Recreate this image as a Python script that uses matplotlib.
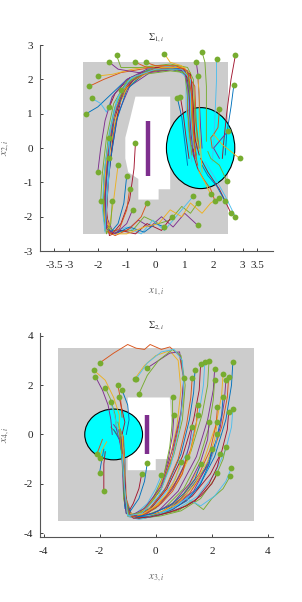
import numpy as np
import matplotlib
matplotlib.use("Agg")
import matplotlib.pyplot as plt
from matplotlib.patches import Polygon, Ellipse

plt.rcParams['font.family'] = ['Liberation Serif', 'DejaVu Serif']
plt.rcParams['mathtext.fontset'] = 'stix'

# === Kolory (paleta MATLAB) ===
kolory = ['#0072BD', '#D95319', '#EDB120', '#7E2F8E', '#77AC30', '#4DBEEE', '#A2142F']
kolor_start = '#77AC30'

# === Panel 1: obszary ===
obszar1 = [(-2.5, -2.5), (2.5, -2.5), (2.5, 2.5), (-2.5, 2.5)]
dziura1 = [(-0.7, 1.5), (0.5, 1.5), (0.5, -1.2), (0.1, -1.2), (0.1, -1.5), (-0.6, -1.5),
           (-0.6, -0.9), (-0.95, -0.7), (-1.05, -0.3), (-1.05, 0.3), (-0.9, 0.8), (-0.7, 1.5)]
przeszkoda1_x = [-0.25, -0.25]
przeszkoda1_y = [-0.8, 0.8]
kolo1_srodek = (1.55, 0.0)
kolo1_r = 1.18

# === Panel 1: trajektorie ===
traj1 = [
    [(-2.4, 1.0), (-2.0, 1.2), (-1.5, 1.6), (-1.0, 2.0), (-0.3, 2.25), (0.5, 2.3), (1.0, 2.2), (1.15, 1.6), (1.2, 0.6), (1.3, 0.0)],
    [(-2.3, 1.8), (-1.8, 2.0), (-1.2, 2.2), (-0.5, 2.3), (0.4, 2.4), (0.9, 2.35), (1.1, 2.0), (1.1, 1.0), (1.2, 0.2), (1.35, -0.3)],
    [(-2.0, 2.1), (-1.5, 2.15), (-0.8, 2.3), (0.0, 2.4), (0.8, 2.4), (1.2, 2.2), (1.3, 1.4), (1.35, 0.5), (1.5, -0.1)],
    [(-1.6, 2.5), (-1.3, 2.3), (-0.6, 2.2), (0.2, 2.3), (1.0, 2.3), (1.25, 1.9), (1.3, 0.8), (1.4, 0.0)],
    [(-1.35, 2.7), (-1.2, 2.35), (-0.5, 2.35), (0.5, 2.45), (1.1, 2.35), (1.3, 2.0), (1.35, 1.0), (1.45, 0.2)],
    [(-2.2, 1.45), (-1.9, 1.3), (-1.7, 1.05), (-1.5, 1.5), (-1.0, 2.0), (-0.2, 2.3), (0.7, 2.3), (1.05, 2.1), (1.05, 1.2), (1.15, 0.2), (1.25, -0.4)],
    [(-1.6, 1.2), (-1.4, 1.6), (-0.9, 2.05), (-0.1, 2.25), (0.8, 2.3), (1.15, 2.05), (1.2, 1.0), (1.3, -0.2), (1.45, -0.6)],
    [(-1.2, 1.7), (-0.7, 2.1), (0.2, 2.35), (0.9, 2.35), (1.2, 2.1), (1.25, 1.2), (1.35, 0.3)],
    [(-0.7, 2.5), (-0.3, 2.35), (0.4, 2.35), (1.0, 2.3), (1.35, 1.8), (1.4, 0.7), (1.5, 0.0)],
    [(0.3, 2.75), (0.5, 2.5), (0.9, 2.4), (1.2, 2.0), (1.2, 1.0), (1.3, 0.0)],
    [(1.4, 2.5), (1.45, 2.2), (1.5, 1.5), (1.55, 0.6), (1.6, 0.0)],
    [(1.6, 2.8), (1.7, 2.5), (1.75, 1.8), (1.75, 1.0), (1.75, 0.2)],
    [(2.1, 2.6), (2.1, 2.0), (2.05, 1.0), (2.0, 0.1), (1.95, -0.4)],
    [(2.75, 2.7), (2.6, 2.0), (2.45, 1.0), (2.35, 0.2), (2.3, -0.3)],
    [(2.7, 1.85), (2.6, 1.2), (2.45, 0.4), (2.4, -0.2)],
    [(2.2, 1.15), (2.15, 0.6), (2.0, 0.4), (1.9, 0.3), (1.95, 0.0)],
    [(2.9, -0.3), (2.6, -0.1), (2.3, 0.1), (2.0, 0.4)],
    [(2.5, 0.5), (2.2, 0.2), (2.0, 0.0), (2.2, -0.3)],
    [(2.45, -0.95), (2.2, -0.5), (1.9, -0.3), (1.8, -0.1)],
    [(2.75, -2.0), (2.4, -1.4), (2.0, -0.8), (1.7, -0.4)],
    [(2.6, -1.9), (2.2, -1.2), (1.8, -0.7), (1.55, -0.3)],
    [(2.4, -1.55), (2.1, -1.1), (1.8, -0.8), (1.6, -0.5)],
    [(2.05, -1.55), (1.9, -1.2), (1.65, -0.9), (1.45, -0.6)],
    [(1.9, -1.35), (1.7, -1.0), (1.5, -0.7)],
    [(1.45, -2.25), (1.0, -1.9), (0.6, -2.3), (0.2, -2.0), (-0.2, -2.3), (-0.6, -2.1), (-1.0, -2.4), (-1.5, -2.4), (-1.7, -2.0),
     (-1.65, -1.0), (-1.5, 0.0), (-1.3, 1.0), (-0.9, 1.8), (-0.2, 2.2), (0.7, 2.3), (1.1, 2.1), (1.15, 1.2), (1.2, 0.3), (1.35, -0.3)],
    [(1.45, -1.6), (1.2, -1.9), (0.9, -1.7), (0.5, -2.1), (0.1, -2.2), (-0.4, -2.0), (-0.8, -2.4), (-1.4, -2.45), (-1.75, -2.2),
     (-1.75, -1.2), (-1.6, -0.1), (-1.45, 0.9), (-1.1, 1.7), (-0.4, 2.15), (0.5, 2.25), (1.0, 2.2), (1.1, 1.5), (1.15, 0.5), (1.25, -0.2)],
    [(1.3, -1.4), (0.7, -2.0), (0.3, -2.4), (-0.1, -2.1), (-0.5, -2.5), (-1.0, -2.3), (-1.6, -2.5), (-1.8, -2.1), (-1.8, -1.0),
     (-1.65, 0.1), (-1.45, 1.1), (-1.05, 1.9), (-0.3, 2.3), (0.6, 2.4), (1.1, 2.25), (1.25, 1.6), (1.3, 0.6), (1.4, -0.1)],
    [(0.55, -2.0), (0.2, -2.4), (-0.3, -2.2), (-0.7, -2.5), (-1.2, -2.4), (-1.6, -2.55), (-1.7, -1.8), (-1.6, -0.6), (-1.45, 0.5),
     (-1.2, 1.4), (-0.8, 2.0), (0.0, 2.35), (0.8, 2.35), (1.2, 2.15), (1.3, 1.2), (1.35, 0.3), (1.5, -0.2)],
    [(0.3, -2.3), (0.0, -2.2), (-0.4, -2.45), (-0.9, -2.3), (-1.4, -2.5), (-1.7, -2.3), (-1.7, -1.4), (-1.55, -0.3), (-1.35, 0.8),
     (-1.0, 1.7), (-0.4, 2.2), (0.5, 2.35), (1.05, 2.25), (1.2, 1.7), (1.25, 0.8), (1.35, 0.0)],
    [(-0.3, -1.6), (-0.5, -2.0), (-0.9, -2.35), (-1.4, -2.55), (-1.75, -2.4), (-1.8, -1.5), (-1.7, -0.4), (-1.5, 0.7), (-1.15, 1.6),
     (-0.6, 2.15), (0.3, 2.3), (0.95, 2.3), (1.15, 1.9), (1.2, 1.0), (1.3, 0.1), (1.45, -0.5)],
    [(2.2, -1.45), (1.9, -1.6), (1.6, -1.9), (1.2, -1.6), (0.9, -2.0), (0.5, -1.8), (0.1, -2.2), (-0.4, -2.3), (-1.0, -2.5),
     (-1.55, -2.5), (-1.7, -2.0), (-1.7, -1.0), (-1.55, 0.1), (-1.3, 1.2), (-0.9, 1.9), (-0.1, 2.3), (0.9, 2.3), (1.15, 2.0), (1.2, 1.0), (1.3, 0.0)],
    [(-2.0, -0.7), (-1.9, 0.0), (-1.75, 0.8), (-1.5, 1.5), (-1.0, 2.0), (-0.3, 2.3), (0.6, 2.35), (1.1, 2.2), (1.2, 1.5), (1.25, 0.5), (1.4, -0.2)],
    [(-1.9, -1.55), (-1.85, -0.8), (-1.7, 0.3), (-1.45, 1.3), (-1.0, 1.95), (-0.2, 2.3), (0.7, 2.35), (1.15, 2.1), (1.2, 1.1), (1.3, 0.1)],
    [(-1.6, -0.3), (-1.7, -1.3), (-1.75, -2.4), (-1.8, -1.8), (-1.75, -0.6), (-1.6, 0.5), (-1.35, 1.4), (-0.9, 2.0), (-0.1, 2.3),
     (0.8, 2.3), (1.1, 2.0), (1.15, 1.0), (1.25, 0.1)],
    [(-0.7, 0.15), (-0.75, -0.6), (-0.9, -1.5), (-1.2, -2.2), (-1.5, -2.5), (-1.7, -2.3), (-1.75, -1.5), (-1.65, -0.3), (-1.45, 0.8),
     (-1.1, 1.7), (-0.5, 2.2), (0.4, 2.35), (1.0, 2.3), (1.15, 1.8), (1.2, 0.8), (1.3, -0.1)],
    [(-1.0, -0.8), (-1.1, -1.6), (-1.3, -2.2), (-1.55, -2.45), (-1.75, -2.2), (-1.75, -1.2), (-1.6, -0.1), (-1.4, 1.0), (-1.0, 1.85),
     (-0.3, 2.25), (0.6, 2.35), (1.1, 2.2), (1.2, 1.3), (1.25, 0.3)],
    [(-0.9, -1.2), (-1.0, -1.8), (-1.25, -2.35), (-1.6, -2.5), (-1.8, -2.0), (-1.75, -0.9), (-1.6, 0.2), (-1.35, 1.2), (-0.95, 1.9),
     (-0.1, 2.3), (0.8, 2.35), (1.2, 2.1), (1.25, 1.0), (1.35, 0.0)],
    [(-1.3, -0.5), (-1.45, -1.5), (-1.6, -2.3), (-1.75, -2.4), (-1.8, -1.5), (-1.7, -0.4), (-1.5, 0.7), (-1.2, 1.6), (-0.7, 2.1),
     (0.2, 2.35), (1.0, 2.35), (1.2, 1.9), (1.25, 0.9), (1.35, -0.1)],
    [(-0.8, -1.8), (-1.0, -2.2), (-1.4, -2.5), (-1.7, -2.35), (-1.75, -1.4), (-1.65, -0.2), (-1.45, 0.9), (-1.1, 1.75), (-0.5, 2.2),
     (0.4, 2.3), (1.0, 2.25), (1.15, 1.6), (1.2, 0.6), (1.3, -0.2)],
    [(-1.5, -1.55), (-1.55, -2.2), (-1.7, -2.5), (-1.8, -2.0), (-1.8, -0.9), (-1.65, 0.2), (-1.4, 1.2), (-1.0, 1.9), (-0.3, 2.25),
     (0.6, 2.3), (1.1, 2.15), (1.2, 1.4), (1.25, 0.4), (1.4, -0.2)],
    [(-1.6, 0.3), (-1.6, -0.6), (-1.7, -1.7), (-1.75, -2.45), (-1.85, -1.7), (-1.75, -0.5), (-1.55, 0.6), (-1.3, 1.5), (-0.85, 2.05),
     (0.0, 2.3), (0.9, 2.3), (1.2, 2.0), (1.2, 1.0), (1.3, 0.0)],
    [(0.85, 1.5), (0.95, 1.0), (1.05, 0.3), (1.15, -0.3)],
    [(0.75, 1.45), (0.9, 0.9), (1.0, 0.2), (1.1, -0.5)],
    [(-0.35, 2.5), (0.0, 2.4), (0.7, 2.4), (1.1, 2.25), (1.25, 1.5), (1.3, 0.5), (1.4, -0.3)],
    [(1.45, 2.1), (1.5, 1.6), (1.5, 0.8), (1.55, 0.0), (1.6, -0.7)],
]

# === Panel 2: obszary ===
obszar2 = [(-3.5, -3.5), (3.5, -3.5), (3.5, 3.5), (-3.5, 3.5)]
dziura2 = [(-1.0, 1.5), (0.5, 1.5), (0.6, -0.5), (0.6, -1.0), (0.0, -1.0), (0.0, -1.45), (-1.0, -1.45)]
przeszkoda2_x = [-0.3, -0.3]
przeszkoda2_y = [-0.8, 0.8]
kolo2_srodek = (-1.5, 0.0)
kolo2_r = 1.03

# === Panel 2: trajektorie ===
traj2 = [
    [(2.75, 2.95), (2.7, 2.0), (2.5, 0.6), (2.1, -0.9), (1.5, -2.2), (0.8, -2.9), (0.0, -3.25), (-0.6, -3.35), (-1.0, -3.2), (-1.1, -2.3), (-1.1, -1.0), (-1.2, 0.0)],
    [(2.6, 2.35), (2.55, 1.5), (2.35, 0.3), (1.9, -1.2), (1.2, -2.4), (0.4, -3.1), (-0.3, -3.3), (-0.85, -3.3), (-1.05, -2.6), (-1.1, -1.2), (-1.15, -0.1), (-1.3, 0.3)],
    [(2.4, 2.45), (2.35, 1.6), (2.15, 0.4), (1.7, -1.1), (1.0, -2.4), (0.3, -3.1), (-0.4, -3.35), (-0.9, -3.3), (-1.1, -2.5), (-1.15, -1.1), (-1.2, -0.2), (-1.4, 0.3)],
    [(2.1, 2.65), (2.05, 1.8), (1.85, 0.6), (1.45, -0.9), (0.8, -2.3), (0.1, -3.1), (-0.5, -3.35), (-0.95, -3.25), (-1.15, -2.4), (-1.2, -1.0), (-1.25, 0.0), (-1.5, 0.4)],
    [(1.9, 3.0), (1.85, 2.0), (1.65, 0.8), (1.25, -0.7), (0.65, -2.1), (0.0, -3.0), (-0.6, -3.35), (-1.0, -3.3), (-1.15, -2.6), (-1.15, -1.2), (-1.2, -0.1), (-1.35, 0.5)],
    [(1.75, 2.95), (1.7, 2.0), (1.55, 0.9), (1.2, -0.5), (0.6, -2.0), (-0.1, -3.0), (-0.7, -3.35), (-1.05, -3.2), (-1.1, -2.2), (-1.15, -0.8), (-1.25, 0.1)],
    [(1.6, 2.85), (1.55, 1.8), (1.35, 0.6), (0.95, -0.9), (0.4, -2.2), (-0.2, -3.05), (-0.75, -3.3), (-1.05, -3.1), (-1.1, -2.0), (-1.15, -0.6), (-1.3, 0.2)],
    [(1.4, 2.6), (1.35, 1.7), (1.2, 0.6), (0.9, -0.8), (0.4, -2.1), (-0.2, -3.0), (-0.8, -3.3), (-1.1, -3.0), (-1.15, -1.8), (-1.2, -0.5), (-1.4, 0.2)],
    [(1.3, 2.3), (1.25, 1.5), (1.1, 0.4), (0.8, -1.0), (0.3, -2.3), (-0.3, -3.1), (-0.85, -3.25), (-1.1, -2.8), (-1.15, -1.4), (-1.2, -0.3), (-1.45, 0.1)],
    [(1.0, 2.3), (1.0, 1.5), (0.85, 0.5), (0.6, -0.9), (0.2, -2.2), (-0.3, -3.0), (-0.8, -3.3), (-1.05, -3.0), (-1.1, -1.8), (-1.15, -0.6), (-1.3, 0.0)],
    [(2.5, 2.2), (2.45, 1.4), (2.3, 0.3), (1.95, -1.0), (1.35, -2.3), (0.6, -3.0), (-0.1, -3.3), (-0.7, -3.4), (-1.0, -3.3), (-1.1, -2.6), (-1.15, -1.3), (-1.25, -0.2)],
    [(2.1, 2.2), (2.05, 1.4), (1.9, 0.3), (1.55, -1.0), (1.0, -2.2), (0.3, -3.0), (-0.4, -3.3), (-0.9, -3.35), (-1.1, -2.8), (-1.15, -1.4), (-1.2, -0.2), (-1.6, 0.3)],
    [(2.75, 1.05), (2.7, 0.3), (2.5, -0.6), (2.1, -1.6), (1.5, -2.5), (0.8, -3.0), (0.1, -3.3), (-0.5, -3.4), (-0.95, -3.35), (-1.1, -2.7), (-1.1, -1.3), (-1.2, -0.2)],
    [(2.6, 0.9), (2.55, 0.2), (2.35, -0.7), (1.95, -1.6), (1.3, -2.5), (0.6, -3.05), (-0.1, -3.3), (-0.7, -3.4), (-1.05, -3.2), (-1.1, -2.2), (-1.15, -0.9), (-1.3, 0.1)],
    [(2.4, 1.5), (2.35, 0.8), (2.15, -0.3), (1.75, -1.4), (1.1, -2.4), (0.4, -3.1), (-0.3, -3.35), (-0.85, -3.35), (-1.1, -2.9), (-1.15, -1.5), (-1.25, -0.3), (-1.5, 0.2)],
    [(2.2, 1.1), (2.15, 0.4), (1.95, -0.6), (1.55, -1.6), (0.9, -2.6), (0.2, -3.15), (-0.5, -3.35), (-1.0, -3.3), (-1.1, -2.5), (-1.15, -1.2), (-1.2, -0.1)],
    [(2.2, 0.5), (2.1, -0.2), (1.85, -1.1), (1.4, -2.0), (0.8, -2.8), (0.1, -3.2), (-0.6, -3.4), (-1.0, -3.3), (-1.1, -2.4), (-1.15, -1.0), (-1.3, 0.2)],
    [(1.9, 0.5), (1.85, -0.2), (1.6, -1.1), (1.2, -2.0), (0.6, -2.8), (-0.1, -3.2), (-0.7, -3.35), (-1.05, -3.1), (-1.1, -2.0), (-1.2, -0.6), (-1.4, 0.3)],
    [(2.5, -0.5), (2.4, -1.0), (2.1, -1.8), (1.6, -2.6), (0.9, -3.1), (0.2, -3.3), (-0.5, -3.4), (-0.95, -3.3), (-1.1, -2.6), (-1.15, -1.3), (-1.25, -0.1)],
    [(2.2, 0.0), (2.1, -0.6), (1.85, -1.4), (1.4, -2.3), (0.7, -2.95), (0.0, -3.25), (-0.6, -3.35), (-1.0, -3.25), (-1.1, -2.3), (-1.15, -0.9), (-1.35, 0.1)],
    [(2.3, -0.8), (2.2, -1.3), (1.9, -2.0), (1.4, -2.7), (0.7, -3.1), (0.0, -3.3), (-0.6, -3.4), (-1.0, -3.2), (-1.1, -2.2), (-1.2, -0.8)],
    [(2.0, -0.6), (1.9, -1.2), (1.6, -2.0), (1.1, -2.7), (0.4, -3.15), (-0.3, -3.35), (-0.85, -3.3), (-1.1, -2.6), (-1.15, -1.2), (-1.2, 0.0)],
    [(1.5, 1.2), (1.45, 0.5), (1.25, -0.6), (0.85, -1.7), (0.3, -2.6), (-0.3, -3.2), (-0.85, -3.3), (-1.1, -2.8), (-1.15, -1.5), (-1.2, -0.3)],
    [(1.5, 0.8), (1.4, 0.1), (1.2, -0.9), (0.8, -1.9), (0.25, -2.7), (-0.35, -3.2), (-0.9, -3.3), (-1.1, -2.6), (-1.15, -1.2), (-1.3, 0.0)],
    [(1.3, 0.3), (1.2, -0.4), (1.0, -1.3), (0.6, -2.2), (0.1, -2.9), (-0.5, -3.3), (-0.95, -3.2), (-1.1, -2.4), (-1.15, -1.0), (-1.35, 0.2)],
    [(2.65, -1.7), (2.4, -2.2), (2.0, -2.6), (1.7, -3.05), (1.3, -2.7), (0.8, -3.1), (0.2, -3.2), (-0.4, -3.4), (-0.9, -3.3), (-1.1, -2.5), (-1.15, -1.2), (-1.2, -0.2)],
    [(2.7, -1.35), (2.5, -1.9), (2.1, -2.5), (1.6, -2.9), (1.1, -2.6), (0.6, -3.0), (0.0, -3.3), (-0.6, -3.45), (-1.0, -3.3), (-1.1, -2.4), (-1.2, -1.0)],
    [(2.2, -1.55), (2.0, -2.0), (1.6, -2.5), (1.1, -2.9), (0.5, -3.15), (-0.2, -3.35), (-0.8, -3.4), (-1.05, -3.0), (-1.1, -1.8), (-1.2, -0.5)],
    [(1.6, -1.2), (1.4, -1.8), (1.0, -2.4), (0.5, -2.9), (-0.1, -3.2), (-0.7, -3.35), (-1.05, -3.2), (-1.1, -2.2), (-1.2, -0.7)],
    [(1.1, -0.9), (0.95, -1.6), (0.6, -2.3), (0.2, -2.8), (-0.3, -3.2), (-0.85, -3.35), (-1.1, -2.8), (-1.15, -1.5), (-1.25, -0.3)],
    [(0.9, -1.1), (0.7, -1.8), (0.4, -2.4), (0.0, -2.9), (-0.5, -3.25), (-0.95, -3.3), (-1.1, -2.6), (-1.15, -1.2)],
    [(0.65, 0.8), (0.6, 0.0), (0.45, -1.0), (0.2, -2.0), (-0.2, -2.8), (-0.7, -3.3), (-1.05, -3.2), (-1.1, -2.2), (-1.2, -0.8), (-1.35, 0.1)],
    [(0.6, 1.5), (0.6, 0.6), (0.5, -0.5), (0.3, -1.6), (-0.1, -2.6), (-0.6, -3.2), (-1.0, -3.3), (-1.1, -2.5), (-1.15, -1.0), (-1.3, 0.3)],
    [(0.2, -1.65), (0.0, -2.2), (-0.3, -2.8), (-0.7, -3.2), (-1.0, -3.25), (-1.1, -2.5), (-1.15, -1.2), (-1.2, 0.0)],
    [(-0.5, -1.6), (-0.6, -2.2), (-0.8, -2.8), (-1.0, -3.2), (-1.1, -2.6), (-1.15, -1.3), (-1.2, -0.2)],
    [(-0.3, -1.15), (-0.4, -1.9), (-0.6, -2.6), (-0.9, -3.1), (-1.1, -2.8), (-1.15, -1.5), (-1.25, -0.3)],
    [(-2.0, 2.9), (-1.5, 3.3), (-1.0, 3.65), (-0.7, 3.5), (-0.4, 3.45), (-0.2, 3.65), (0.2, 3.45), (0.5, 3.55), (0.85, 3.2), (1.0, 2.2),
     (0.9, 0.8), (0.6, -0.8), (0.2, -2.2), (-0.4, -3.1), (-0.9, -3.3), (-1.1, -2.6), (-1.15, -1.3), (-1.2, -0.2)],
    [(-2.2, 2.6), (-1.8, 2.2), (-1.5, 1.5), (-1.3, 0.8), (-1.3, 0.2)],
    [(-2.15, 2.35), (-1.9, 1.8), (-1.7, 1.2), (-1.6, 0.6), (-1.55, 0.0)],
    [(-1.8, 1.9), (-1.6, 1.4), (-1.45, 0.8), (-1.4, 0.3)],
    [(-1.6, 1.3), (-1.5, 0.9), (-1.4, 0.4), (-1.3, -0.1)],
    [(-1.3, 1.5), (-1.2, 1.0), (-1.1, 0.5), (-1.2, 0.0)],
    [(-1.2, 1.8), (-1.0, 1.2), (-0.95, 0.6), (-1.05, 0.0)],
    [(-1.35, 2.0), (-1.25, 1.4), (-1.2, 0.7)],
    [(-0.75, 2.25), (-0.4, 2.8), (0.0, 3.2), (0.5, 3.4), (0.8, 3.0), (0.9, 1.8), (0.75, 0.3), (0.45, -1.2), (0.0, -2.5), (-0.6, -3.25),
     (-1.0, -3.2), (-1.1, -2.4), (-1.15, -1.0), (-1.2, 0.0)],
    [(-0.3, 2.7), (0.1, 3.0), (0.5, 3.3), (0.85, 3.35), (1.0, 2.3), (0.9, 0.9), (0.6, -0.6), (0.2, -2.1), (-0.4, -3.0), (-0.9, -3.3),
     (-1.1, -2.7), (-1.15, -1.4), (-1.25, -0.1)],
    [(-0.6, 1.65), (-0.3, 2.4), (0.1, 3.0), (0.6, 3.45), (0.9, 3.2), (1.05, 2.0), (0.95, 0.6), (0.65, -0.8), (0.2, -2.2), (-0.4, -3.1),
     (-0.95, -3.3), (-1.1, -2.5), (-1.2, -1.0), (-1.3, 0.2)],
    [(-0.7, 2.25), (-0.3, 2.9), (0.2, 3.35), (0.65, 3.45), (0.95, 3.0), (1.0, 1.8), (0.85, 0.3), (0.55, -1.2), (0.1, -2.5), (-0.5, -3.2),
     (-1.0, -3.3), (-1.1, -2.3), (-1.2, -0.8)],
    [(-1.85, -2.3), (-1.85, -1.8), (-1.85, -1.2), (-1.8, -0.7)],
    [(-2.0, -1.55), (-1.95, -1.2), (-1.85, -0.6)],
    [(-2.1, -0.8), (-2.0, -0.5), (-1.9, -0.2)],
    [(-2.0, -0.95), (-1.9, -0.6), (-1.75, -0.3)],
]

# === Ustawienia osi ===
xlim1, ylim1 = (-4.0, 4.05), (-3.0, 3.0)
xticks1 = [-3.5, -3, -2, -1, 0, 1, 2, 3, 3.5]
yticks1 = [-3, -2, -1, 0, 1, 2, 3]
xlim2, ylim2 = (-4.13, 4.18), (-4.16, 4.12)
xticks2 = [-4, -2, 0, 2, 4]
yticks2 = [-4, -2, 0, 2, 4]


def rysuj_panel(ax, obszar, dziura, px, py, srodek, r, trajektorie, tytul, xl, yl, xlim, ylim, xt, yt):
    ax.add_patch(Polygon(obszar, closed=True, facecolor='#CCCCCC', edgecolor='none', zorder=1))
    ax.add_patch(Polygon(dziura, closed=True, facecolor='white', edgecolor='none', zorder=2))
    ax.plot(px, py, color='#7E2F8E', linewidth=3.2, solid_capstyle='butt', zorder=3)
    ax.add_patch(Ellipse(srodek, 2 * r, 2 * r, facecolor='#00FFFF', edgecolor='black', linewidth=0.8, zorder=4))
    for i, tr in enumerate(trajektorie):
        tr = np.array(tr)
        ax.plot(tr[:, 0], tr[:, 1], color=kolory[i % len(kolory)], linewidth=0.65, zorder=5)
    starty = np.array([tr[0] for tr in trajektorie])
    ax.plot(starty[:, 0], starty[:, 1], 'o', color=kolor_start, markersize=4.2,
            markeredgewidth=0, zorder=6)
    ax.set_xlim(*xlim)
    ax.set_ylim(*ylim)
    ax.set_xticks(xt)
    ax.set_yticks(yt)
    ax.set_xticklabels([f'{v:g}' for v in xt])
    ax.set_yticklabels([f'{v:g}' for v in yt])
    ax.tick_params(direction='in', length=2.5, width=0.6, labelsize=8, colors='#222222', pad=7)
    ax.tick_params(axis='y', pad=5)
    for s in ['top', 'right']:
        ax.spines[s].set_visible(False)
    for s in ['left', 'bottom']:
        ax.spines[s].set_color('#555555')
        ax.spines[s].set_linewidth(0.8)
    ax.set_title(tytul, fontsize=7, color='#333333', pad=4)
    ax.set_xlabel(xl, fontsize=8, color='#666666', labelpad=12)
    ax.set_ylabel(yl, fontsize=8, color='#666666', labelpad=8)


fig = plt.figure(figsize=(3.02, 6.02), dpi=100)
ax1 = fig.add_axes([0.132, 0.583, 0.772, 0.342])
ax2 = fig.add_axes([0.132, 0.108, 0.772, 0.339])

rysuj_panel(ax1, obszar1, dziura1, przeszkoda1_x, przeszkoda1_y, kolo1_srodek, kolo1_r, traj1,
            r'$\Sigma_{1,i}$', r'$x_{1,i}$', r'$x_{2,i}$', xlim1, ylim1, xticks1, yticks1)
rysuj_panel(ax2, obszar2, dziura2, przeszkoda2_x, przeszkoda2_y, kolo2_srodek, kolo2_r, traj2,
            r'$\Sigma_{2,i}$', r'$x_{3,i}$', r'$x_{4,i}$', xlim2, ylim2, xticks2, yticks2)

fig.savefig('out.png', dpi=100)
